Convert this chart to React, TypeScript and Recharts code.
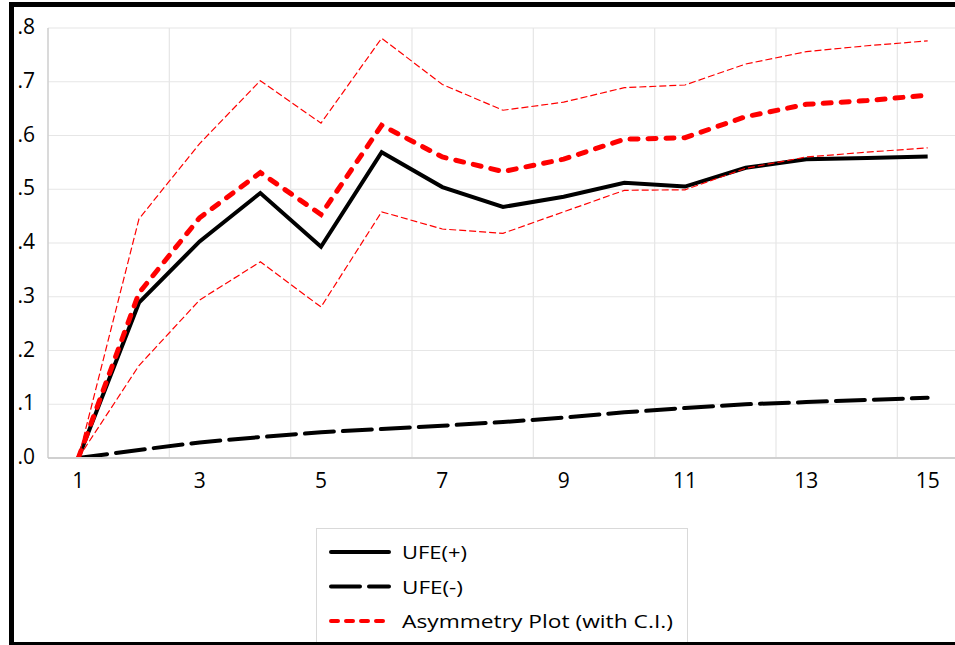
import React from 'react';
import { LineChart, Line, XAxis, YAxis, CartesianGrid, Legend } from 'recharts';

const periods = [1, 2, 3, 4, 5, 6, 7, 8, 9, 10, 11, 12, 13, 14, 15];
const ufePlus = [0, 0.289, 0.403, 0.493, 0.393, 0.569, 0.504, 0.467, 0.486, 0.512, 0.505, 0.54, 0.556, 0.558, 0.561];
const ufeMinus = [0, 0.015, 0.029, 0.039, 0.048, 0.054, 0.06, 0.067, 0.075, 0.085, 0.093, 0.1, 0.104, 0.108, 0.112];
const asymmetry = [0, 0.307, 0.447, 0.531, 0.453, 0.619, 0.56, 0.533, 0.556, 0.593, 0.596, 0.635, 0.658, 0.665, 0.675];
const upperCI = [0, 0.445, 0.585, 0.702, 0.623, 0.781, 0.695, 0.647, 0.662, 0.689, 0.694, 0.733, 0.756, 0.767, 0.776];
const lowerCI = [0, 0.172, 0.294, 0.365, 0.281, 0.458, 0.426, 0.418, 0.458, 0.498, 0.499, 0.539, 0.56, 0.569, 0.577];

const xTicks = [1, 3, 5, 7, 9, 11, 13, 15];
const yTicks = [0, 0.1, 0.2, 0.3, 0.4, 0.5, 0.6, 0.7, 0.8];
const yTickLabels = ['.0', '.1', '.2', '.3', '.4', '.5', '.6', '.7', '.8'];
const xGridLines = [0.5, 2.5, 4.5, 6.5, 8.5, 10.5, 12.5, 14.5];
const yGridLines = [0.1, 0.2, 0.3, 0.4, 0.5, 0.6, 0.7];
const legendNames = ['UFE(+)', 'UFE(-)', 'Asymmetry Plot (with C.I.)'];
const legendTextWidths = [65, 61, 271];

const data = periods.map((p, i) => ({
  x: p,
  ufePlus: ufePlus[i],
  ufeMinus: ufeMinus[i],
  asym: asymmetry[i],
  upper: upperCI[i],
  lower: lowerCI[i],
}));

const FONT = '"Open Sans", "Noto Sans", sans-serif';

const YTick = (props: any) => {
  const { x, y, payload } = props;
  const idx = yTicks.findIndex((t) => Math.abs(t - payload.value) < 1e-9);
  return (
    <text x={x} y={y} dy={-2} textAnchor="end" dominantBaseline="central" fontSize={21} fontFamily={FONT} fill="#000">
      {idx >= 0 ? yTickLabels[idx] : ''}
    </text>
  );
};

const XTick = (props: any) => {
  const { x, y, payload } = props;
  return (
    <text x={x} y={y} dy={30} textAnchor="middle" fontSize={21} fontFamily={FONT} fill="#000">
      {payload.value}
    </text>
  );
};

const legendStyles: Record<string, { stroke: string; width: number; dash?: string }> = {
  'UFE(+)': { stroke: '#000', width: 4 },
  'UFE(-)': { stroke: '#000', width: 4, dash: '29 9' },
  'Asymmetry Plot (with C.I.)': { stroke: '#ff0000', width: 4, dash: '7 8' },
};

const renderLegend = (props: any) => {
  const items = (props.payload || []).filter((p: any) => p.type !== 'none');
  return (
    <div style={{ width: 372, height: 130, border: '1px solid #d9d9d9', boxSizing: 'border-box', background: '#fff' }}>
      <svg width={370} height={128} style={{ display: 'block' }}>
        {items.map((it: any, i: number) => {
          const name = legendNames[i] ?? it.value;
          const st = legendStyles[name];
          return (
            <g key={name} transform={`translate(0, ${23 + i * 34.5})`}>
              <line x1={14} x2={72} y1={0} y2={0} stroke={st.stroke} strokeWidth={st.width} strokeDasharray={st.dash} strokeLinecap="round" />
              <text
                x={85}
                y={0}
                dominantBaseline="central"
                fontSize={19}
                fontFamily={FONT}
                fill="#000"
                textLength={legendTextWidths[i]}
                lengthAdjust="spacingAndGlyphs"
              >
                {name}
              </text>
            </g>
          );
        })}
      </svg>
    </div>
  );
};

export default function App() {
  return (
    <div style={{ position: 'fixed', left: 0, top: 0, width: 955, height: 645, overflow: 'hidden', background: '#fff' }}>
      <LineChart width={960} height={645} data={data} margin={{ top: 28, right: 2, bottom: 0, left: 0 }}>
        <XAxis xAxisId="grid" type="number" dataKey="x" domain={[0.5, 15.5]} ticks={xGridLines} hide allowDataOverflow />
        <YAxis yAxisId="grid" type="number" domain={[0, 0.8]} ticks={yGridLines} hide allowDataOverflow />
        <CartesianGrid xAxisId="grid" yAxisId="grid" stroke="#e6e6e6" strokeWidth={1.2} />
        <XAxis
          type="number"
          dataKey="x"
          domain={[0.5, 15.5]}
          ticks={xTicks}
          height={187}
          tickSize={0}
          tickMargin={0}
          tickLine={false}
          axisLine={{ stroke: '#d0d0d0', strokeWidth: 2 }}
          tick={<XTick />}
          allowDataOverflow
        />
        <YAxis
          type="number"
          domain={[0, 0.8]}
          ticks={yTicks}
          width={48}
          tickSize={0}
          tickMargin={13}
          tickLine={false}
          axisLine={{ stroke: '#c4c4c4', strokeWidth: 1 }}
          tick={<YTick />}
          allowDataOverflow
        />
        <Legend
          layout="vertical"
          align="center"
          verticalAlign="middle"
          content={renderLegend}
          wrapperStyle={{ position: 'absolute', left: 316, top: 528, width: 372, height: 130 }}
        />
        <Line name="UFE(+)" dataKey="ufePlus" stroke="#000" strokeWidth={4} dot={false} activeDot={false} isAnimationActive={false} />
        <Line name="UFE(-)" dataKey="ufeMinus" stroke="#000" strokeWidth={4} strokeDasharray="29 9" strokeLinecap="round" dot={false} activeDot={false} isAnimationActive={false} />
        <Line name="Asymmetry Plot (with C.I.)" dataKey="asym" stroke="#ff0000" strokeWidth={5} strokeDasharray="8 10" strokeLinecap="round" dot={false} activeDot={false} isAnimationActive={false} />
        <Line name="Upper C.I." dataKey="upper" legendType="none" stroke="#ff0000" strokeWidth={1.2} strokeDasharray="7 3" dot={false} activeDot={false} isAnimationActive={false} />
        <Line name="Lower C.I." dataKey="lower" legendType="none" stroke="#ff0000" strokeWidth={1.2} strokeDasharray="7 3" dot={false} activeDot={false} isAnimationActive={false} />
      </LineChart>
      <div
        style={{
          position: 'absolute',
          left: 9,
          top: 2,
          width: 1000,
          height: 645,
          border: '5px solid #000',
          boxSizing: 'border-box',
          pointerEvents: 'none',
        }}
      />
    </div>
  );
}
